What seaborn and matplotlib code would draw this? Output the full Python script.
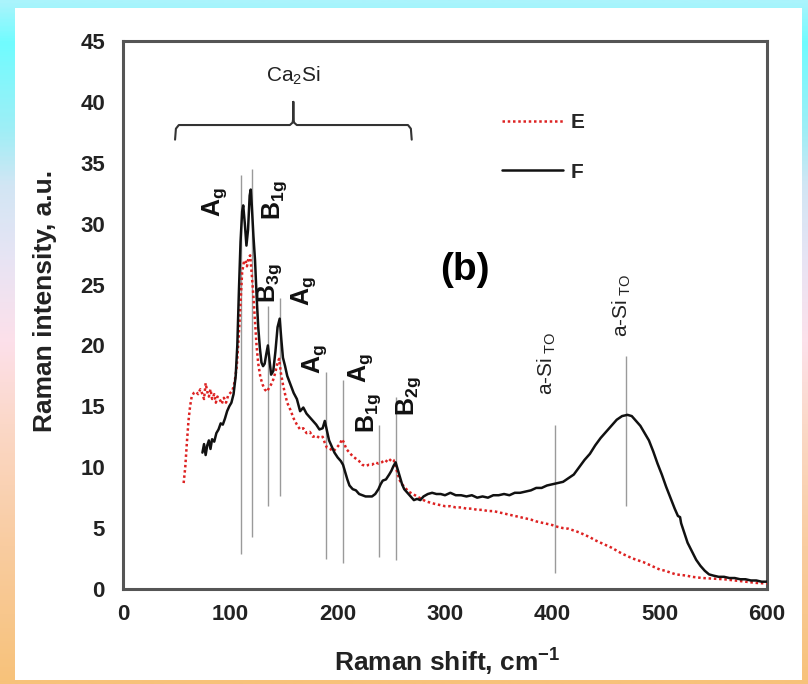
import numpy as np
import pandas as pd
import matplotlib
matplotlib.use("Agg")
import matplotlib.pyplot as plt
import seaborn as sns
from matplotlib.colors import LinearSegmentedColormap
from matplotlib.patches import Rectangle

# ---------------- data ----------------
E_x = [56.5, 58, 59.5, 61, 62.5, 64, 66, 68, 70, 72, 74, 75.5, 77, 78.5, 80, 81.5, 83, 85, 86.5, 88,
       90, 92, 94, 96, 98, 100, 102, 104, 106, 108, 109.5, 111, 112.5, 114, 115.5, 117, 118.5, 120,
       121.5, 123, 124.5, 126, 128, 130, 132, 134, 136, 138, 140, 142, 144, 145.5, 147, 149, 151,
       153, 156, 159, 162, 165, 168, 171, 174, 177, 180, 183, 186, 188, 190, 193, 196, 199, 202, 204,
       206, 208, 211, 214, 217, 220, 223, 226, 229, 232, 235, 238, 241, 244, 247, 250, 252, 254, 256,
       258, 260, 263, 266, 270, 274, 278, 282, 286, 290, 295, 300, 305, 310, 315, 320, 325, 330, 335,
       340, 345, 350, 355, 360, 365, 370, 375, 380, 385, 390, 395, 400, 405, 410, 415, 420, 425, 430,
       435, 440, 445, 450, 455, 460, 465, 470, 475, 480, 485, 490, 495, 500, 505, 510, 515, 520, 525,
       530, 540, 550, 560, 570, 580, 590, 600]
E_y = [8.7, 10.0, 12.0, 13.8, 15.0, 15.8, 16.1, 16.2, 16.0, 16.4, 16.0, 15.6, 16.9, 16.2, 15.8, 16.4,
       15.6, 16.0, 15.3, 15.8, 15.6, 15.2, 15.7, 15.3, 15.9, 16.1, 16.3, 17.0, 18.3, 21.0, 23.5, 26.0,
       26.8, 27.0, 26.5, 27.2, 27.4, 25.8, 24.0, 22.0, 19.9, 18.5, 17.4, 16.8, 16.4, 16.2, 16.5, 16.8,
       17.2, 17.8, 18.6, 18.9, 17.8, 16.8, 16.0, 15.3, 14.7, 14.0, 13.5, 13.1, 13.2, 12.8, 12.9, 12.5,
       12.6, 12.4, 12.5, 12.0, 11.6, 11.5, 11.3, 11.6, 11.9, 12.3, 12.0, 11.5, 11.2, 10.9, 10.7, 10.5,
       10.2, 10.1, 10.2, 10.2, 10.4, 10.3, 10.4, 10.6, 10.4, 10.7, 10.6, 10.1, 9.4, 8.9, 8.6, 8.3, 8.0,
       7.8, 7.6, 7.4, 7.2, 7.1, 7.0, 6.9, 6.8, 6.8, 6.7, 6.7, 6.6, 6.6, 6.5, 6.5, 6.4, 6.4, 6.3,
       6.2, 6.1, 6.0, 5.9, 5.8, 5.7, 5.55, 5.45, 5.35, 5.25, 5.1, 5.0, 4.95, 4.8, 4.65, 4.45, 4.25,
       4.0, 3.8, 3.6, 3.4, 3.15, 2.9, 2.7, 2.5, 2.35, 2.2, 2.0, 1.8, 1.6, 1.5, 1.35, 1.2, 1.15, 1.1,
       1.0, 0.9, 0.85, 0.8, 0.7, 0.6, 0.5, 0.45]

F_x = [74, 75.5, 77, 78.5, 80, 81.5, 83, 85, 87, 89, 91, 93, 95, 97, 99, 101, 103, 105, 106.5, 108,
       109.5, 111, 112, 113.5, 115, 116.5, 118, 119, 120, 121.5, 123, 124.5, 126, 127.5, 129, 130.5,
       132, 133.5, 135, 136.5, 138, 140, 142, 144, 146, 147.5, 149, 151, 153, 156, 159, 162, 165, 168,
       171, 174, 177, 180, 183, 186, 188, 190, 192, 194, 197, 200, 203, 205, 207, 209, 211, 214, 217,
       220, 223, 226, 229, 232, 235, 238, 240, 242, 245, 248, 250, 252, 254, 256, 258, 260, 262, 265,
       268, 271, 274, 277, 280, 284, 288, 292, 296, 300, 305, 310, 315, 320, 325, 330, 335, 340, 345,
       350, 355, 360, 365, 370, 375, 380, 385, 390, 395, 400, 405, 410, 415, 420, 425, 430, 435, 440,
       445, 450, 455, 460, 465, 470, 474, 478, 482, 486, 490, 494, 498, 502, 506, 510, 514, 517, 519,
       520, 523, 526, 530, 534, 538, 542, 546, 550, 555, 560, 565, 570, 575, 580, 585, 590, 595, 600]
F_y = [11.2, 11.9, 11.0, 11.8, 12.2, 11.5, 12.3, 12.1, 12.8, 13.1, 13.6, 13.5, 14.0, 14.6, 15.0, 15.3,
       16.0, 17.5, 20.0, 24.5, 28.5, 31.0, 31.5, 30.0, 28.2, 29.5, 32.3, 32.8, 31.5, 29.0, 27.0, 24.0,
       21.5, 19.8, 18.6, 18.3, 18.5, 19.3, 20.0, 18.8, 17.6, 17.9, 19.5, 21.5, 22.2, 20.5, 19.0, 18.3,
       17.5, 16.8, 16.1, 15.6, 14.6, 14.9, 14.4, 14.1, 13.8, 13.5, 13.1, 13.2, 13.8, 13.0, 12.2, 11.8,
       11.2, 10.8, 10.5, 10.2, 9.6, 9.0, 8.5, 8.2, 8.1, 7.8, 7.7, 7.6, 7.6, 7.6, 7.8, 8.2, 8.6, 8.9,
       9.0, 9.4, 9.7, 10.1, 10.4, 9.8, 9.2, 8.6, 8.2, 7.9, 7.6, 7.3, 7.4, 7.3, 7.6, 7.8, 7.9, 7.8, 7.8,
       7.7, 7.9, 7.7, 7.7, 7.6, 7.7, 7.5, 7.6, 7.5, 7.7, 7.7, 7.8, 7.7, 7.9, 7.9, 8.0, 8.1, 8.3, 8.3,
       8.5, 8.6, 8.7, 8.8, 9.1, 9.4, 10.0, 10.6, 11.1, 11.8, 12.4, 12.9, 13.4, 13.9, 14.2, 14.3, 14.2,
       13.8, 13.4, 12.8, 12.2, 11.3, 10.3, 9.4, 8.4, 7.5, 6.6, 6.0, 5.9, 5.4, 4.6, 3.8, 3.1, 2.4, 1.9,
       1.5, 1.2, 1.1, 1.0, 1.0, 0.9, 0.9, 0.8, 0.8, 0.7, 0.7, 0.6, 0.6]

series_names = ["E", "F"]

# peak marker lines
peak_x = [110, 120, 135, 146, 189.5, 205, 238.5, 254.5, 402.5, 469]
peak_ymin = [2.9, 4.3, 6.8, 7.6, 2.5, 2.1, 2.6, 2.4, 1.3, 6.8]
peak_ymax = [34.0, 34.5, 23.2, 23.9, 17.8, 17.2, 13.5, 15.8, 13.5, 19.1]

# peak labels
mode_labels = [r"$\mathbf{A_g}$", r"$\mathbf{B_{1g}}$", r"$\mathbf{B_{3g}}$", r"$\mathbf{A_g}$",
               r"$\mathbf{A_g}$", r"$\mathbf{A_g}$", r"$\mathbf{B_{1g}}$", r"$\mathbf{B_{2g}}$"]
mode_x = [85.7, 141.7, 137, 168, 179, 221, 228.6, 266]
mode_y = [31.8, 31.9, 25.1, 24.5, 18.9, 18.1, 14.4, 15.8]
asi_x = [395, 465]
asi_y = [18.5, 23.3]

x_ticks = [0, 100, 200, 300, 400, 500, 600]
y_ticks = [0, 5, 10, 15, 20, 25, 30, 35, 40, 45]

# ---------------- figure ----------------
sns.set_theme(style="white")
plt.rcParams["font.family"] = ["Liberation Sans", "DejaVu Sans"]
plt.rcParams["mathtext.fontset"] = "custom"
plt.rcParams["mathtext.rm"] = "Liberation Sans"
plt.rcParams["mathtext.it"] = "Liberation Sans:italic"
plt.rcParams["mathtext.bf"] = "Liberation Sans:bold"

W, H = 808, 684
fig = plt.figure(figsize=(W / 100, H / 100), dpi=100)

# gradient frame background
bg = fig.add_axes([0, 0, 1, 1], zorder=-10)
stops = [(0.0, "#aaf4fc"), (0.06, "#70fcff"), (0.19, "#a0eef6"), (0.27, "#d2e6f4"),
         (0.38, "#e8e4f4"), (0.50, "#fde0ea"), (0.62, "#fbd8c8"), (0.80, "#f9cca0"), (1.0, "#f7c27a")]
cmap = LinearSegmentedColormap.from_list("frame", stops)
grad = np.linspace(0, 1, 400).reshape(-1, 1)
bg.imshow(grad, aspect="auto", cmap=cmap, extent=[0, 1, 0, 1], origin="upper")
bg.add_patch(Rectangle((15 / W, 1 - 680 / H), (802 - 15) / W, (680 - 8) / H,
                       facecolor="white", edgecolor="none"))
bg.set_xlim(0, 1)
bg.set_ylim(0, 1)
bg.axis("off")

ax = fig.add_axes([123 / W, 1 - 589 / H, 644 / W, 548 / H])
ax.set_facecolor("white")

df = pd.concat([
    pd.DataFrame({"shift": E_x, "intensity": E_y, "sample": series_names[0]}),
    pd.DataFrame({"shift": F_x, "intensity": F_y, "sample": series_names[1]}),
])
sns.lineplot(data=df, x="shift", y="intensity", hue="sample", style="sample",
             palette={"E": "#dd2222", "F": "#111111"}, dashes={"E": (1, 1.1), "F": ""},
             sort=False, estimator=None, linewidth=1.8, legend=False, ax=ax, zorder=3)

ax.vlines(peak_x, peak_ymin, peak_ymax, colors="#9a9a9a", linewidth=1.0, zorder=2)

for lab, x, y in zip(mode_labels, mode_x, mode_y):
    ax.text(x, y, lab, rotation=90, ha="center", va="center", fontsize=18, color="#111111")
for x, y in zip(asi_x, asi_y):
    ax.text(x, y, r"a-Si$_{\mathrm{\ TO}}$", rotation=90, ha="center", va="center",
            fontsize=15, color="#222222")

# Ca2Si brace
bx = [48.5, 49.3, 52, 155.5, 158.0, 158.7, 158.7, 158.7, 159.4, 161.9, 265.5, 268.2, 269]
by = [36.9, 37.8, 38.1, 38.1, 38.3, 38.7, 40.0, 38.7, 38.3, 38.1, 38.1, 37.8, 36.9]
ax.plot(bx, by, color="#333333", linewidth=1.5, zorder=3)
ax.text(158.7, 42.1, r"Ca$_2$Si", ha="center", va="center", fontsize=15, color="#222222")

ax.text(318.5, 26.2, "(b)", ha="center", va="center", fontsize=28, fontweight="bold",
        color="black")

handles = ax.get_lines()[:2]
leg = ax.legend(handles, series_names, loc="upper left", bbox_to_anchor=(0.589, 0.868),
                frameon=False, borderpad=0, borderaxespad=0, handlelength=2.9,
                handletextpad=0.4, labelspacing=1.45,
                prop={"family": "Liberation Sans", "weight": "bold", "size": 15})

ax.set_xlim(0, 600)
ax.set_ylim(0, 45)
ax.set_xticks(x_ticks)
ax.set_yticks(y_ticks)
ax.set_xticks(np.arange(0, 601, 20), minor=True)
ax.set_yticks(np.arange(0, 46, 1), minor=True)
ax.tick_params(which="major", direction="inout", length=10, width=1.3, color="#333333",
               labelsize=16, pad=6)
ax.tick_params(which="minor", direction="in", length=6, width=1.0, color="#333333")
ax.tick_params(axis="y", which="major", pad=8)
for lab in ax.get_xticklabels() + ax.get_yticklabels():
    lab.set_fontweight("bold")
    lab.set_color("#222222")

for s in ax.spines.values():
    s.set_visible(True)
    s.set_color("#555555")
    s.set_linewidth(2.2)

ax.set_xlabel(r"Raman shift, cm$^{\mathbf{-1}}$", fontsize=19, fontweight="bold", color="#222222")
ax.set_ylabel("Raman intensity, a.u.", fontsize=19, fontweight="bold", color="#222222")
ax.xaxis.set_label_coords(0.503, -0.105)
ax.yaxis.set_label_coords(-0.1025, 0.525)

fig.savefig("out.png", dpi=100)
